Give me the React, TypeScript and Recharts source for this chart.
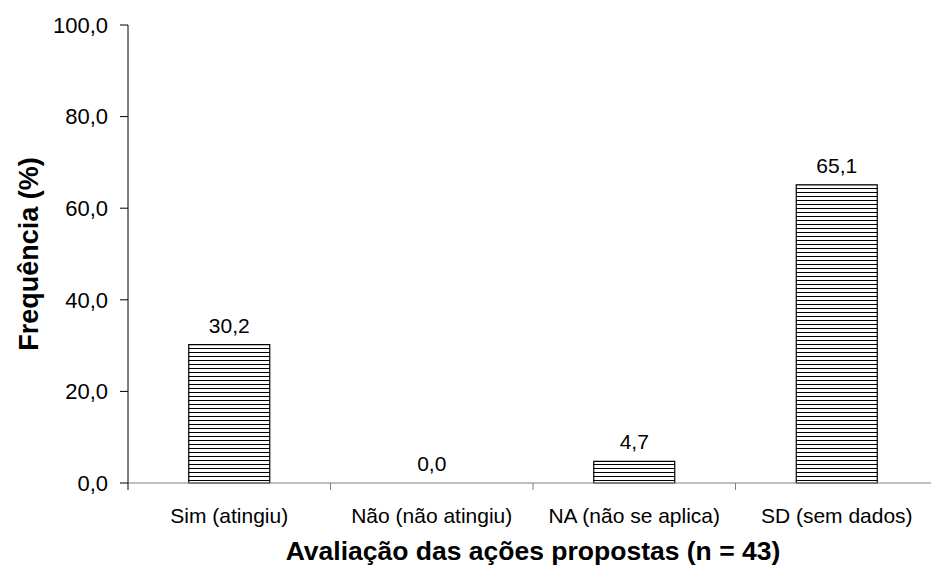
import { BarChart, Bar, XAxis, YAxis, LabelList, Cell } from "recharts";

const categories = ["Sim (atingiu)", "Não (não atingiu)", "NA (não se aplica)", "SD (sem dados)"];
const frequencies = [30.2, 0.0, 4.7, 65.1];
const yTicks = [0, 20, 40, 60, 80, 100];

const data = categories.map((name, i) => ({ name, value: frequencies[i] }));

const FONT = "'Liberation Sans', Arial, sans-serif";
const CHART_W = 960;
const CHART_H = 566;
const MARGIN = { top: 25, right: 22, bottom: 0, left: 0 };
const Y_AXIS_W = 128;
const X_AXIS_H = 83;
const X_TICK_MARGIN = 25;
const PLOT_W = CHART_W - Y_AXIS_W - MARGIN.left - MARGIN.right;
const halfBand = PLOT_W / categories.length / 2;

// pt-BR number style: 30,2
const fmt = (v: number) => Number(v).toFixed(1).replace(".", ",");

// tick label centred under the bar, tick mark on the category boundary (Excel style)
const CategoryTick = (props: any) => {
  const { x, y, payload, index } = props;
  const axisY = y - X_TICK_MARGIN;
  return (
    <g>
      <line
        x1={x - halfBand}
        y1={axisY}
        x2={x - halfBand}
        y2={axisY + 7}
        stroke={index === 0 ? "#000" : "#808080"}
        strokeWidth={1}
      />
      <text x={x} y={y} dy="0.71em" textAnchor="middle" fontFamily={FONT} fontSize={21} fill="#000">
        {payload.value}
      </text>
    </g>
  );
};

const App = () => {
  return (
    <div style={{ position: "absolute", left: 0, top: 0, width: 931, height: 566, overflow: "hidden", background: "#fff" }}>
      <BarChart width={CHART_W} height={CHART_H} data={data} margin={MARGIN} barCategoryGap="30%">
        <defs>
          <pattern id="hstripes" width={4} height={4} patternUnits="userSpaceOnUse">
            <rect width={4} height={4} fill="#fff" />
            <rect y={0} width={4} height={1} fill="#000" />
          </pattern>
        </defs>
        <XAxis
          dataKey="name"
          height={X_AXIS_H}
          stroke="#808080"
          tickLine={false}
          tickSize={0}
          tickMargin={X_TICK_MARGIN}
          interval={0}
          tick={<CategoryTick />}
          label={{
            content: (p: any) => (
              <text
                x={p.viewBox.x + p.viewBox.width / 2}
                y={p.viewBox.y + 77}
                textAnchor="middle"
                fontFamily={FONT}
                fontSize={26.5}
                fontWeight="bold"
                fill="#000"
              >
                Avaliação das ações propostas (n = 43)
              </text>
            ),
          }}
        />
        <YAxis
          width={Y_AXIS_W}
          domain={[0, 100]}
          ticks={yTicks}
          interval={0}
          tickFormatter={fmt}
          stroke="#000"
          tickSize={8}
          tickMargin={12}
          tick={{ fill: "#000", fontSize: 22, fontFamily: FONT }}
          label={{
            content: (p: any) => {
              const cx = p.viewBox.x + 29;
              const cy = p.viewBox.y + p.viewBox.height / 2;
              return (
                <text
                  x={cx}
                  y={cy}
                  transform={`rotate(-90 ${cx} ${cy})`}
                  textAnchor="middle"
                  dominantBaseline="central"
                  fontFamily={FONT}
                  fontSize={27}
                  fontWeight="bold"
                  fill="#000"
                >
                  Frequência (%)
                </text>
              );
            },
          }}
        />
        <Bar
          dataKey="value"
          fill="url(#hstripes)"
          stroke="#000"
          strokeWidth={1.2}
          minPointSize={0.5}
          isAnimationActive={false}
        >
          {data.map((d, i) => (
            <Cell
              key={`c-${i}`}
              fill={d.value === 0 ? "transparent" : "url(#hstripes)"}
              stroke={d.value === 0 ? "transparent" : "#000"}
            />
          ))}
          <LabelList
            dataKey="value"
            position="top"
            offset={12}
            formatter={(v: any) => fmt(v)}
            fill="#000"
            fontSize={21}
            fontFamily={FONT}
          />
        </Bar>
      </BarChart>
    </div>
  );
};

export default App;
